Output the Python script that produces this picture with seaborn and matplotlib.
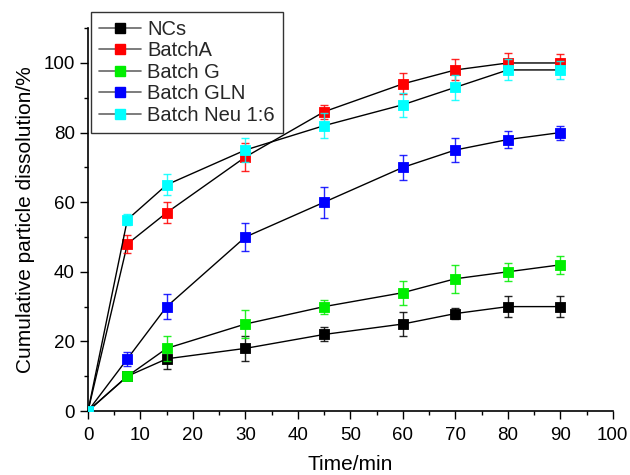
import matplotlib
matplotlib.use("Agg")
import matplotlib.pyplot as plt
import seaborn as sns
import pandas as pd
from matplotlib.lines import Line2D
from matplotlib.ticker import MultipleLocator

time_min = [0, 7.5, 15, 30, 45, 60, 70, 80, 90]
series_names = ["NCs", "BatchA", "Batch G", "Batch GLN", "Batch Neu 1:6"]
nc_vals = [0, 10, 15, 18, 22, 25, 28, 30, 30]
nc_err = [0, 1, 3, 3.5, 2, 3.5, 1.5, 3, 3]
a_vals = [0, 48, 57, 73, 86, 94, 98, 100, 100]
a_err = [0, 2.5, 3, 4, 2, 3, 3, 3, 2.5]
g_vals = [0, 10, 18, 25, 30, 34, 38, 40, 42]
g_err = [0, 1, 3.5, 4, 2, 3.5, 4, 2.5, 2.5]
gln_vals = [0, 15, 30, 50, 60, 70, 75, 78, 80]
gln_err = [0, 2, 3.5, 4, 4.5, 3.5, 3.5, 2.5, 2]
neu_vals = [0, 55, 65, 75, 82, 88, 93, 98, 98]
neu_err = [0, 1.5, 3, 3.5, 3.5, 3.5, 3.5, 3, 2.5]
colors = ["#000000", "#ff0000", "#00ee00", "#0000ff", "#00ffff"]

values = [nc_vals, a_vals, g_vals, gln_vals, neu_vals]
errors = [nc_err, a_err, g_err, gln_err, neu_err]

rows = []
for name, v, e in zip(series_names, values, errors):
    for t, y, err in zip(time_min, v, e):
        rows.append({"time": t, "value": y, "err": err, "series": name})
df = pd.DataFrame(rows)

sns.set_theme(style="ticks")
plt.rcParams["font.family"] = ["Liberation Sans", "DejaVu Sans"]

fig = plt.figure(figsize=(6.3, 4.75), dpi=100)
ax = fig.add_axes([0.1397, 0.1347, 0.833, 0.806])

for i, (name, col) in enumerate(zip(series_names, colors)):
    sub = df[df["series"] == name]
    z = 2 + i
    sns.lineplot(data=sub, x="time", y="value", color="black", lw=1.0,
                 ax=ax, zorder=z, legend=False)
    ax.errorbar(sub["time"], sub["value"], yerr=sub["err"], fmt="none",
                ecolor=col, elinewidth=1.0, capsize=3, capthick=1.0,
                zorder=z, alpha=0.85)
    sns.scatterplot(data=sub, x="time", y="value", color=col, marker="s",
                    s=60, edgecolor=col, linewidth=0.6, ax=ax, zorder=z + 0.5,
                    legend=False)

ax.set_xlim(0, 100)
ax.set_ylim(0, 110)
ax.xaxis.set_major_locator(MultipleLocator(10))
ax.xaxis.set_minor_locator(MultipleLocator(5))
ax.yaxis.set_major_locator(MultipleLocator(20))
ax.yaxis.set_minor_locator(MultipleLocator(10))
ax.set_yticks([0, 20, 40, 60, 80, 100])
ax.tick_params(axis="both", which="major", direction="out", length=5.5, width=1.0,
               labelsize=13.5, color="black", labelcolor="black", pad=4)
ax.tick_params(axis="x", which="major", pad=6)
ax.tick_params(axis="both", which="minor", direction="out", length=3, width=1.0,
               color="black")
for s in ["top", "right"]:
    ax.spines[s].set_visible(False)
for s in ["left", "bottom"]:
    ax.spines[s].set_color("black")
    ax.spines[s].set_linewidth(1.2)

ax.set_xlabel("Time/min", fontsize=15, color="black", labelpad=8)
ax.set_ylabel("Cumulative particle dissolution/%", fontsize=15, color="black", labelpad=6)

handles = [Line2D([0], [0], color="#666666", lw=1.2, marker="s", markersize=7,
                  markerfacecolor=c, markeredgecolor=c) for c in colors]
leg = ax.legend(handles, series_names, loc="upper left",
                bbox_to_anchor=(91 / 630, 1 - 12 / 475), bbox_transform=fig.transFigure,
                fontsize=14.5, frameon=True, fancybox=False, handlelength=2.1,
                handletextpad=0.3, labelspacing=0.12, borderpad=0.4,
                borderaxespad=0)
leg.get_frame().set_edgecolor("black")
leg.get_frame().set_linewidth(1.0)
leg.set_zorder(20)

fig.savefig("out.png", dpi=100)
